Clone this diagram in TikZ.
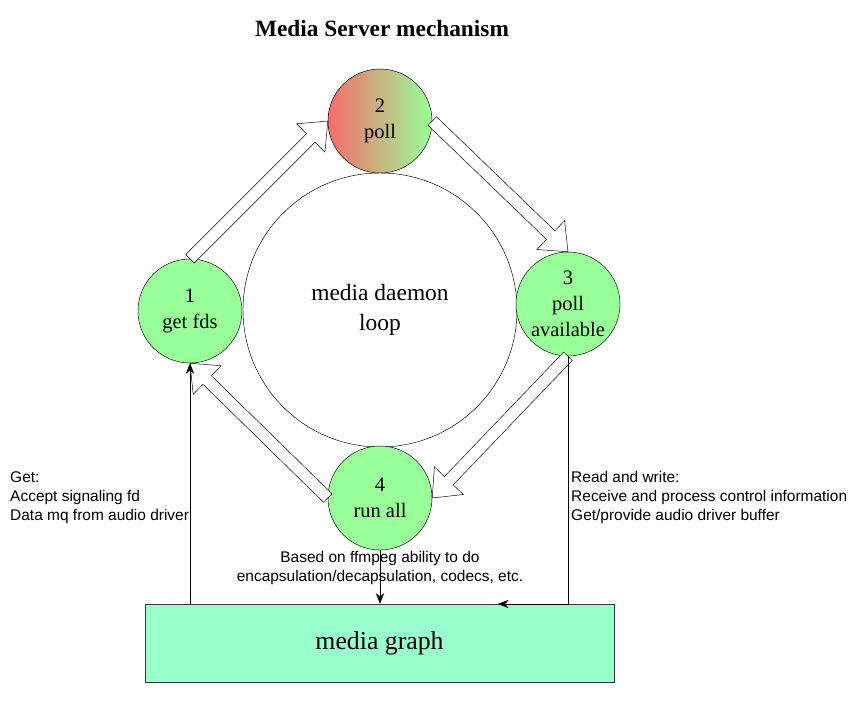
\documentclass[tikz,border=0pt]{standalone}
\usepackage{fontspec}
\setmainfont{Liberation Serif}
\setsansfont{Liberation Sans}
\usetikzlibrary{calc,arrows.meta}

\definecolor{stepgreen}{RGB}{153,255,153}
\definecolor{stepred}{RGB}{244,108,108}
\definecolor{graphgreen}{RGB}{153,255,204}
\definecolor{graphedge}{RGB}{54,57,61}

% hollow block arrow from #1 (tail) to #2 (tip)
\newcommand{\blockarrow}[2]{%
  \coordinate (ba) at ($(#2)!0.72cm!(#1)$);
  \draw[fill=white,line join=miter]
    ($(#1)!0.18cm!90:(#2)$) -- ($(ba)!0.18cm!-90:(#1)$)
    -- ($(ba)!0.6cm!-90:(#1)$) -- (#2)
    -- ($(ba)!0.6cm!90:(#1)$) -- ($(ba)!0.18cm!90:(#1)$)
    -- ($(#1)!0.18cm!-90:(#2)$) -- cycle;}

\tikzset{
  stepnode/.style={circle,draw,fill=stepgreen,minimum size=3.12cm,inner sep=0pt,
    align=center,font=\fontsize{17.5}{22}\selectfont},
  note/.style={font=\sffamily\fontsize{13.2}{16.4}\selectfont,inner sep=0pt},
  link/.style={-{Stealth[length=9pt,width=7pt]}}
}

\begin{document}
\begin{tikzpicture}[x=0.03cm,y=-0.03cm]
  \useasboundingbox (0,0) rectangle (866,717);

  \node (title) at (382,29) {\fontsize{19.9}{24}\selectfont\bfseries Media Server mechanism};

  \node[circle,draw,minimum size=8.22cm,inner sep=0pt,align=center,
    font=\fontsize{20}{24}\selectfont] (loop) at (380,310) {media daemon\\[1pt]loop};

  \node[stepnode] (n1) at (190,311) {1\\get fds};
  \node[stepnode,left color=stepred,right color=stepgreen] (n2) at (380,121) {2\\poll};
  \node[stepnode] (n3) at (568,304) {3\\poll\\available};
  \node[stepnode] (n4) at (380,498) {4\\run all};

  \node[draw=graphedge,fill=graphgreen,minimum width=14.07cm,minimum height=2.34cm,
    font=\fontsize{22}{26}\selectfont] (mg) at (379.5,643) {media graph};

  % the loop
  \blockarrow{n1.north}{n2.west}
  \blockarrow{n2.east}{n3.north}
  \blockarrow{n3.south}{n4.east}
  \blockarrow{n4.west}{n1.south}

  % data paths to the graph
  \coordinate (mgin) at (498,604);
  \draw[link] (n1.south |- mg.north) -- (n1.south);
  \draw[link] (n3.south) |- (mgin);
  \draw[link] (n4.south) -- (n4.south |- mg.north);

  \node[note,anchor=north west,align=left] (getnote) at (10,471)
    {Get:\\Accept signaling fd\\Data mq from audio driver};
  \node[note,anchor=north west,align=left] (rwnote) at (571,471)
    {Read and write:\\Receive and process control information\\Get/provide audio driver buffer};
  \node[note,align=center] (ffnote) at (380,568)
    {Based on ffmpeg ability to do\\encapsulation/decapsulation, codecs, etc.};
\end{tikzpicture}
\end{document}
